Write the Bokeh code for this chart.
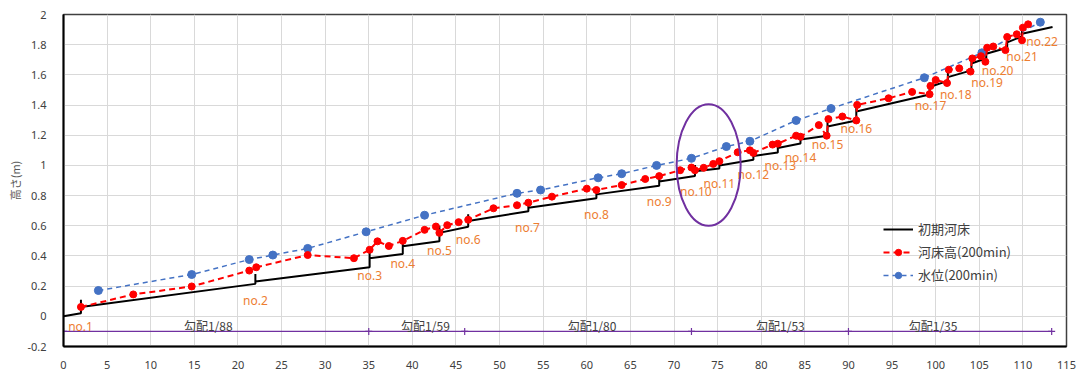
from bokeh.plotting import figure
from bokeh.models import Legend, LegendItem, FixedTicker, CustomJSTickFormatter, Range1d
from bokeh.core.properties import value
from bokeh.embed import file_html
from bokeh.resources import INLINE

# ---- data ----
x_ticks = list(range(0, 116, 5))
y_ticks = [-0.2, 0, 0.2, 0.4, 0.6, 0.8, 1.0, 1.2, 1.4, 1.6, 1.8, 2.0]

# initial bed (初期河床): weirs no.1..no.22
weir_x = [2.0, 22.0, 35.1, 38.9, 43.1, 46.4, 53.3, 61.1, 68.3, 72.4, 75.2,
          79.1, 81.9, 84.5, 87.6, 90.9, 99.3, 101.4, 104.1, 105.8, 108.2, 109.9]
weir_low = [0.02, 0.215, 0.325, 0.413, 0.497, 0.593, 0.696, 0.782, 0.865, 0.93, 0.98,
            1.037, 1.085, 1.145, 1.197, 1.298, 1.47, 1.56, 1.63, 1.71, 1.78, 1.855]
weir_crest = [0.11, 0.28, 0.44, 0.479, 0.60, 0.677, 0.76, 0.846, 0.935, 1.003, 1.028,
              1.10, 1.146, 1.21, 1.307, 1.416, 1.55, 1.63, 1.715, 1.785, 1.845, 1.90]
weir_up = [0.062, 0.23, 0.385, 0.464, 0.553, 0.632, 0.72, 0.808, 0.893, 0.962, 1.0,
           1.062, 1.115, 1.172, 1.258, 1.357, 1.52, 1.585, 1.675, 1.74, 1.815, 1.873]
bed_start = (0.0, 0.0)
bed_end = (113.4, 1.917)

# bed height (河床高 200min)
red_x = [2.0, 8.0, 14.7, 21.3, 22.1, 28.0, 33.3, 35.1, 36.0, 37.3, 38.9, 41.4, 42.7,
         43.1, 44.0, 45.3, 46.4, 49.3, 52.0, 53.3, 56.0, 60.0, 61.1, 64.0, 66.7, 68.3,
         70.7, 72.0, 72.4, 73.4, 74.5, 75.2, 77.3, 78.7, 79.1, 81.3, 81.9, 84.0, 84.5,
         86.6, 87.5, 87.7, 89.3, 90.9, 91.0, 94.6, 97.3, 99.3, 99.4, 100.0, 101.3,
         101.5, 102.7, 104.0, 104.2, 105.2, 105.7, 105.9, 106.6, 108.0, 108.2, 109.3,
         109.9, 110.0, 110.6]
red_y = [0.062, 0.145, 0.198, 0.303, 0.325, 0.406, 0.385, 0.441, 0.497, 0.466, 0.50,
         0.573, 0.595, 0.553, 0.604, 0.624, 0.640, 0.716, 0.736, 0.753, 0.793, 0.846,
         0.837, 0.87, 0.91, 0.929, 0.968, 0.986, 0.968, 0.984, 1.01, 1.028, 1.087, 1.10,
         1.083, 1.138, 1.144, 1.197, 1.19, 1.267, 1.197, 1.307, 1.324, 1.298, 1.401,
         1.445, 1.487, 1.472, 1.526, 1.566, 1.546, 1.634, 1.643, 1.622, 1.709, 1.724,
         1.687, 1.780, 1.788, 1.764, 1.851, 1.869, 1.829, 1.913, 1.935]

# water level (水位 200min)
water_x = [4.0, 14.7, 21.3, 24.0, 28.0, 34.7, 41.4, 52.0, 54.7, 61.3, 64.0, 68.0,
           72.0, 76.0, 78.7, 84.0, 88.0, 98.7, 105.3, 112.0]
water_y = [0.171, 0.277, 0.376, 0.406, 0.45, 0.56, 0.67, 0.815, 0.837, 0.918, 0.945,
           1.0, 1.047, 1.125, 1.16, 1.298, 1.377, 1.581, 1.746, 1.949]

# weir labels
label_text = ["no.%d" % i for i in range(1, 23)]
label_x = [1.95, 22.0, 35.1, 38.9, 43.1, 46.4, 53.2, 61.1, 68.3, 72.5, 75.2, 79.1,
           82.2, 84.5, 87.6, 90.9, 99.4, 102.3, 105.9, 107.1, 109.9, 112.2]
label_y = [-0.066, 0.105, 0.27, 0.352, 0.433, 0.512, 0.591, 0.677, 0.764, 0.83, 0.881,
           0.94, 1.0, 1.05, 1.138, 1.243, 1.40, 1.467, 1.548, 1.627, 1.72, 1.818]

# slope sections
grad_x = [0, 35, 46, 72, 90, 113.3]
grad_level = -0.1
grad_text = ["勾配1/88", "勾配1/59", "勾配1/80", "勾配1/53", "勾配1/35"]
grad_text_x = [16.6, 41.5, 60.6, 82.2, 99.7]
grad_text_y = -0.06

# highlighted area
ell_x, ell_y, ell_w, ell_h = 73.97, 1.003, 7.34, 0.806

# ---- build bed polyline ----
bed_x = [bed_start[0]]
bed_y = [bed_start[1]]
for wx, lo, cr, up in zip(weir_x, weir_low, weir_crest, weir_up):
    bed_x += [wx, wx, wx]
    bed_y += [lo, cr, up]
bed_x.append(bed_end[0])
bed_y.append(bed_end[1])

# ---- figure ----
p = figure(width=1076, height=371, x_range=Range1d(0, 115), y_range=Range1d(-0.2, 2),
           output_backend="svg", toolbar_location=None,
           min_border_left=63, min_border_right=10, min_border_top=14, min_border_bottom=23)

p.xaxis.ticker = FixedTicker(ticks=x_ticks)
p.yaxis.ticker = FixedTicker(ticks=y_ticks)
p.yaxis.formatter = CustomJSTickFormatter(code="return (Math.round(tick*10)/10).toString();")
for ax in (p.xaxis, p.yaxis):
    ax.major_tick_line_color = None
    ax.minor_tick_line_color = None
    ax.axis_line_color = "black"
    ax.axis_line_width = 2
    ax.major_label_text_font = "Noto Sans"
    ax.major_label_text_font_size = "11px"
    ax.major_label_text_color = "#404040"
p.xaxis.major_label_standoff = 8
p.yaxis.major_label_standoff = 11
p.yaxis.axis_label = "高さ(m)"
p.yaxis.axis_label_text_font = "Noto Sans CJK JP"
p.yaxis.axis_label_text_font_size = "11px"
p.yaxis.axis_label_text_font_style = "normal"
p.yaxis.axis_label_text_color = "#595959"
p.yaxis.axis_label_standoff = 1

p.xgrid.grid_line_color = "#D9D9D9"
p.ygrid.grid_line_color = "#D9D9D9"
p.outline_line_color = "#404040"
p.outline_line_width = 1.5

# gradient line
p.line(grad_x, [grad_level] * len(grad_x), line_color="#7030A0", line_width=1.2)
p.scatter(grad_x, [grad_level] * len(grad_x), marker="cross", size=7,
          line_color="#7030A0", line_width=1.2)
p.text(x=grad_text_x, y=[grad_text_y] * len(grad_text_x), text=grad_text,
       text_font=value("Noto Sans CJK JP"), text_font_size="12px", text_color="#404040",
       text_align="center", text_baseline="middle")

bed_r = p.line(bed_x, bed_y, line_color="black", line_width=2)

blue_line = p.line(water_x, water_y, line_color="#4472C4", line_width=1.5, line_dash="5 4")
blue_pts = p.scatter(water_x, water_y, size=8, fill_color="#4472C4", line_color="#4472C4")

red_line = p.line(red_x, red_y, line_color="#FF0000", line_width=2, line_dash="6 4")
red_pts = p.scatter(red_x, red_y, size=7, fill_color="#FF0000", line_color="#FF0000")

p.text(x=label_x, y=label_y, text=label_text, text_font=value("Noto Sans"),
       text_font_size="12px", text_color="#ED7D31", text_align="center",
       text_baseline="middle")

p.ellipse(x=ell_x, y=ell_y, width=ell_w, height=ell_h, fill_color=None,
          line_color="#7030A0", line_width=2)

legend = Legend(items=[LegendItem(label="初期河床", renderers=[bed_r]),
                       LegendItem(label="河床高(200min)", renderers=[red_line, red_pts]),
                       LegendItem(label="水位(200min)", renderers=[blue_line, blue_pts])],
                location=(820, 62), padding=0, margin=0, spacing=4,
                glyph_width=30, glyph_height=16, label_standoff=5,
                label_text_font="Noto Sans CJK JP", label_text_font_size="13px",
                label_text_color="#404040", border_line_color=None,
                background_fill_alpha=0)
p.add_layout(legend)

open("out.html", "w").write(file_html(p, INLINE))
